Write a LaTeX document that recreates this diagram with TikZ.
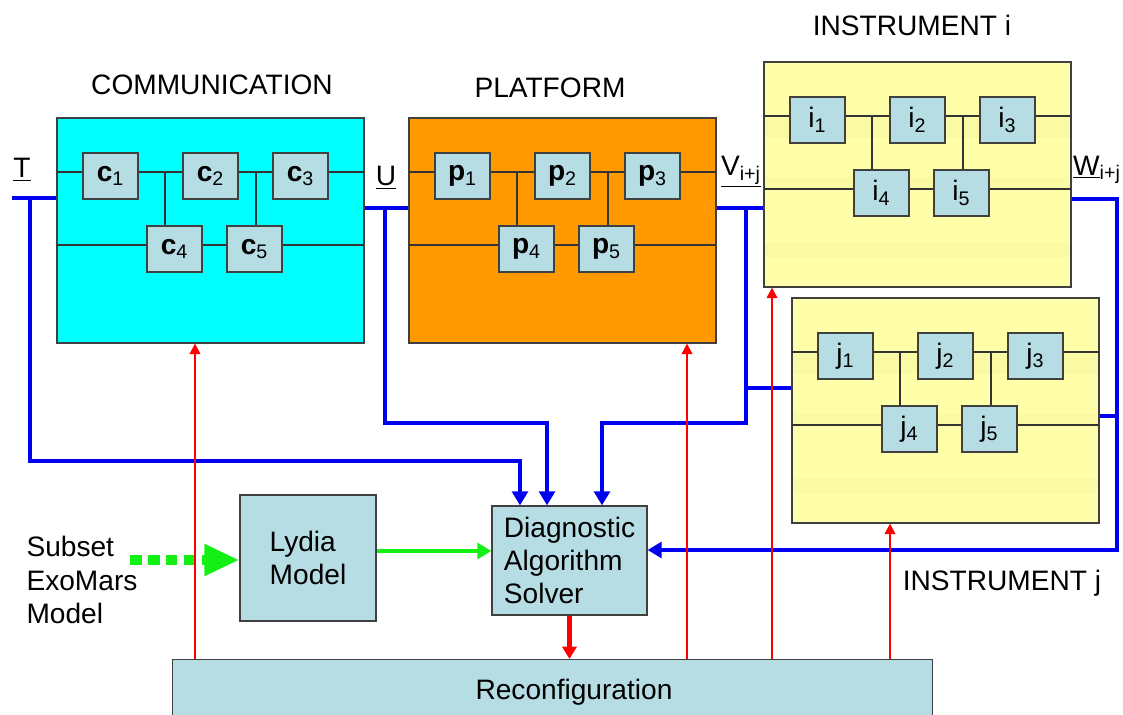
\documentclass[tikz,border=0pt]{standalone}
\usepackage{fontspec}
\setmainfont{Liberation Sans}
\usetikzlibrary{arrows.meta,positioning,calc}

\definecolor{comfill}{RGB}{0,255,255}
\definecolor{platfill}{RGB}{255,153,0}
\definecolor{instfill}{RGB}{255,255,170}
\definecolor{bandfill}{RGB}{250,250,164}
\definecolor{cellfill}{RGB}{183,221,228}
\definecolor{busblue}{RGB}{0,0,240}
\definecolor{ctrlred}{RGB}{255,0,0}
\definecolor{modelgreen}{RGB}{20,240,20}

\tikzset{
  unit/.style={draw=black!75, line width=0.7pt, minimum width=6.14cm, minimum height=4.5cm, inner sep=0pt},
  cell/.style={draw=black!75, line width=0.7pt, fill=cellfill, minimum width=1.1cm, minimum height=0.92cm, inner sep=0pt},
  model/.style={draw=black!75, line width=0.7pt, fill=cellfill, align=left, inner sep=0pt},
  wire/.style={black!80, line width=0.7pt},
  bus/.style={busblue, line width=2.5pt},
  busarrow/.style={bus, -{Triangle[length=8pt,width=9pt]}},
  ctrl/.style={ctrlred, line width=1.2pt, -{Triangle[length=6pt,width=6pt]}},
  ctrlbig/.style={ctrlred, line width=2.4pt, -{Triangle[length=7pt,width=8pt]}},
  feed/.style={modelgreen, line width=2.6pt, -{Triangle[length=8pt,width=9pt]}},
  import/.style={modelgreen, line width=5.7pt, dash pattern=on 6.6pt off 3.6pt, -{Triangle[length=20pt,width=17pt]}}
}

% subsystem: frame, two rails and five components
% #1 name, #2/#3 top left corner, #4 letter, #5 fill, #6 band colour
\newcommand{\unitblock}[6]{%
  \begin{scope}[shift={(#2,#3)}]
    \node[unit, fill=#5] (#1) at (153.5,112.5) {};
    \foreach \ya/\yb in {56/76, 115/128, 181/195}
      \fill[#6] (0.6,\ya) rectangle (306.4,\yb);
    \draw[wire] (0,54) -- (307,54);
    \draw[wire] (0,127) -- (307,127);
    \draw[wire] (108,54) -- (108,108);
    \draw[wire] (199,54) -- (199,108);
    \node[cell] (#1-1) at (53.5,58) {#4\textsubscript{1}};
    \node[cell] (#1-2) at (153.5,58) {#4\textsubscript{2}};
    \node[cell] (#1-3) at (243.5,58) {#4\textsubscript{3}};
    \node[cell] (#1-4) at (117.5,131) {#4\textsubscript{4}};
    \node[cell] (#1-5) at (197.5,131) {#4\textsubscript{5}};
  \end{scope}}

\begin{document}
\begin{tikzpicture}[x=0.02cm, y=-0.02cm, every node/.style={font=\fontsize{16}{19}\selectfont}]
\useasboundingbox (0,0) rectangle (1123,715);

\unitblock{com}{57}{118}{\textbf{c}}{comfill}{comfill}
\unitblock{plat}{409}{118}{\textbf{p}}{platfill}{platfill}
\unitblock{insti}{764}{62}{i}{instfill}{bandfill}
\unitblock{instj}{792}{298}{j}{instfill}{bandfill}

\node (comtitle) at (212,85) {COMMUNICATION};
\node (plattitle) at (550,88) {PLATFORM};
\node (insttitlei) at (912,25) {INSTRUMENT i};
\node (insttitlej) at (1002,583) {INSTRUMENT j};

\node (Tlabel) at (22,170) {\underline{T}};
\node (Ulabel) at (386,178) {\underline{U}};
\node (Vlabel) at (741,172) {\underline{V\textsubscript{i+j}}};
\node (Wlabel) at (1097,170) {\underline{W}\textsubscript{i+j}};

% models and solver
\node[align=left, inner sep=0pt] (exomars) at (82,580) {Subset\\ExoMars\\Model};
\node[model, minimum width=2.72cm, minimum height=2.52cm] (lydia) at (308,558) {Lydia\\Model};
\node[model, minimum width=3.1cm, minimum height=2.18cm] (solver) at (569.5,560.5) {Diagnostic\\Algorithm\\Solver};
\node[model, minimum width=15.2cm, minimum height=1.44cm, anchor=north west] (reconf) at (172,659) {};
\node (reconftext) at (574,692) {Reconfiguration};

% signal T
\coordinate (Tin) at (12,198);
\coordinate (Ttap) at (30,198);
\coordinate (Tknee) at (520,461);
\draw[bus] (Tin) -- (Tin -| com.west);
\draw[busarrow] (Ttap) |- (Tknee) -- (Tknee |- solver.north);

% signal U
\coordinate (Utap) at (385,208);
\coordinate (Uknee) at (547,423);
\draw[bus] (com.east |- Utap) -- (plat.west |- Utap);
\draw[busarrow] (Utap) |- (Uknee) -- (Uknee |- solver.north);

% signal V
\coordinate (Vtap) at (746,208);
\coordinate (Vj) at (746,388);
\coordinate (Vknee) at (602,423);
\draw[bus] (plat.east |- Vtap) -- (insti.west |- Vtap);
\draw[busarrow] (Vtap) |- (Vknee) -- (Vknee |- solver.north);
\draw[bus] (Vj) -- (Vj -| instj.west);

% signal W
\coordinate (Wout) at (1117,199);
\coordinate (Wj) at (1117,416);
\coordinate (Wback) at (1117,550);
\draw[busarrow] (insti.east |- Wout) -- (Wout) -- (Wback) -- (Wback -| solver.east);
\draw[bus] (instj.east |- Wj) -- (Wj);

% model flow
\coordinate (exoout) at (130,560);
\coordinate (lydiaout) at ([yshift=4pt]lydia.east);
\draw[import] (exoout) -- (exoout -| lydia.west);
\draw[feed] (lydiaout) -- (lydiaout -| solver.west);

% reconfiguration commands
\draw[ctrlbig] (solver.south) -- (solver.south |- reconf.north);
\foreach \x/\dest in {195/com, 687/plat, 772/insti, 890/instj}
  \draw[ctrl] (\x,0 |- reconf.north) -- (\x,0 |- \dest.south);
\end{tikzpicture}
\end{document}
